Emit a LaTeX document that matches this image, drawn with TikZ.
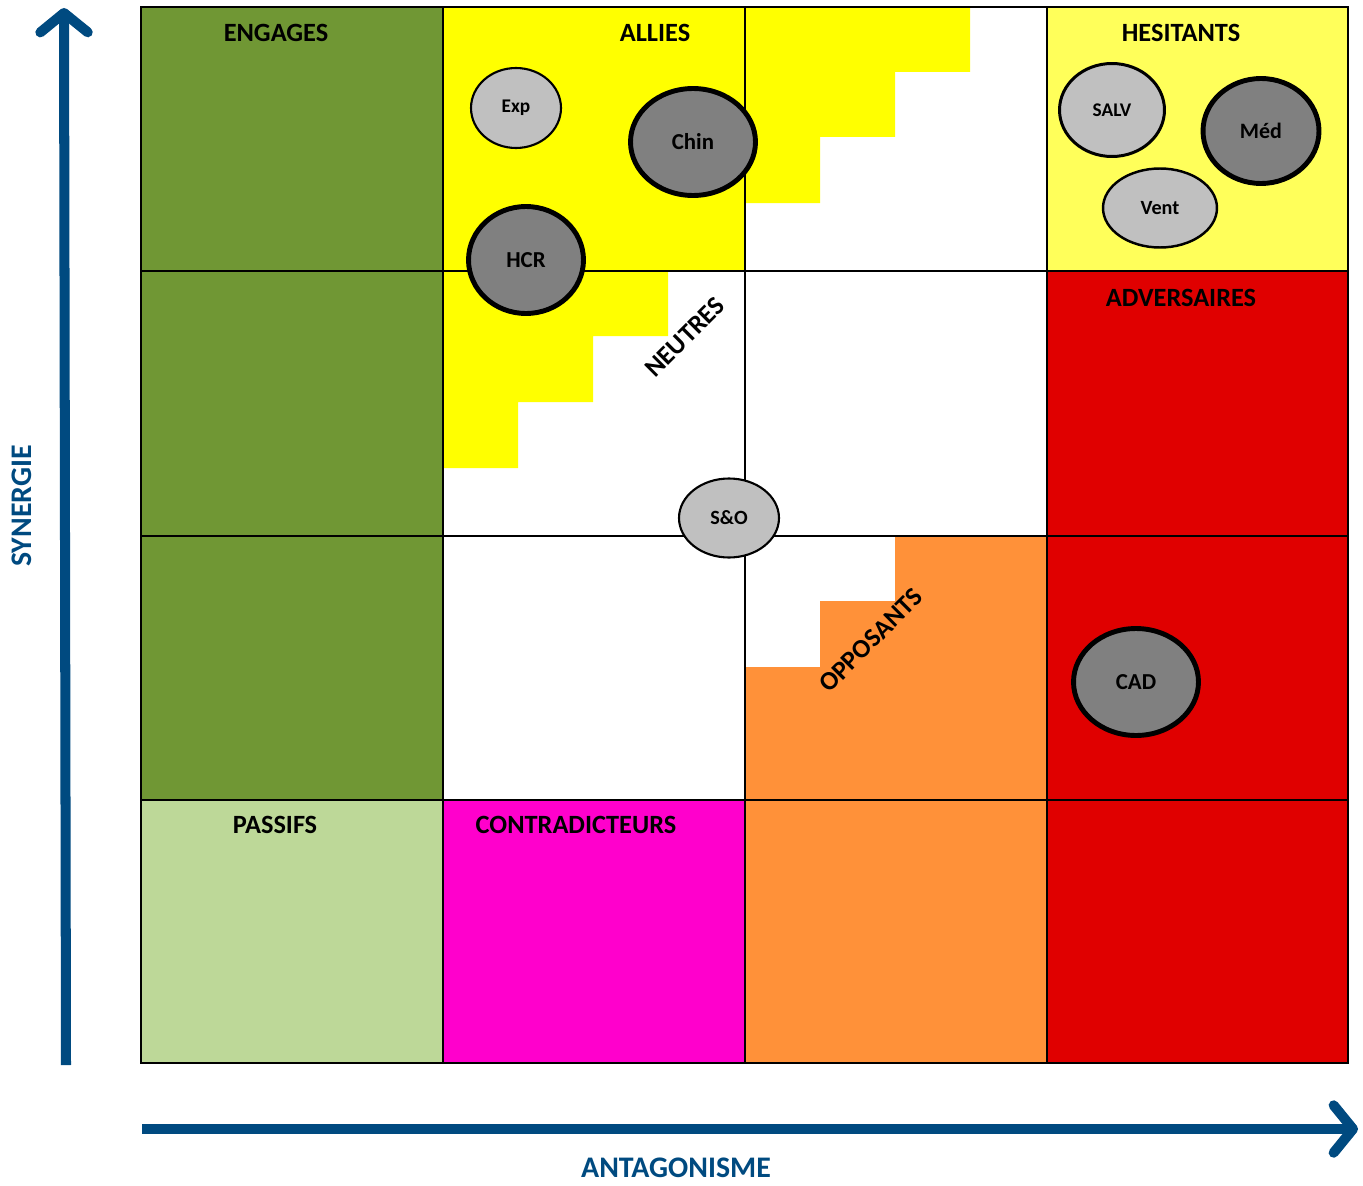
\documentclass[tikz,border=0pt]{standalone}
\usepackage{fontspec}
\setmainfont{Carlito}
\usetikzlibrary{arrows.meta, shapes.geometric}

\definecolor{engage}{RGB}{112,151,52}
\definecolor{passif}{RGB}{189,216,152}
\definecolor{allie}{RGB}{255,255,0}
\definecolor{hesite}{RGB}{255,255,90}
\definecolor{adverse}{RGB}{224,0,0}
\definecolor{oppose}{RGB}{255,145,57}
\definecolor{contredit}{RGB}{255,0,204}
\definecolor{axe}{RGB}{0,74,128}
\definecolor{grisclair}{RGB}{192,192,192}
\definecolor{grisfonce}{RGB}{128,128,128}

\begin{document}
\begin{tikzpicture}[x=0.02cm, y=-0.02cm,
		acteur/.style={ellipse, draw, inner sep=0pt, font=\bfseries\fontsize{11.5}{13}\selectfont},
		faible/.style={acteur, fill=grisclair, line width=1.2pt},
		fort/.style={acteur, fill=grisfonce, line width=2.8pt, font=\bfseries\fontsize{13}{15}\selectfont},
		titre/.style={font=\bfseries\fontsize{15}{17}\selectfont},
		axelabel/.style={font=\bfseries\fontsize{17}{19}\selectfont, text=axe},
		fleche/.style={draw=axe, line width=5.7pt, -{Straight Barb[length=11pt, width=27pt, line cap=round, line join=round]}}]
		\useasboundingbox (0,0) rectangle (1363,1186);
		
		% cells
		\fill[engage] (141,7) rectangle (443,800);
		\fill[passif] (141,800) rectangle (443,1063);
		\fill[allie] (443,7) rectangle (745,271);
		\fill[hesite] (1047,7) rectangle (1348,271);
		\fill[adverse] (1047,271) rectangle (1348,1063);
		\fill[contredit] (443,800) rectangle (745,1063);
		\fill[oppose] (745,800) rectangle (1047,1063);
		
		% staircases
		\fill[allie] (745,7) -| (970,72) -| (895,137) -| (820,203) -| cycle;
		\fill[allie] (443,271) -| (668,336) -| (593,402) -| (518,468) -| cycle;
		\fill[oppose] (895,536) -| (1047,800) -| (745,667) -| (820,601) -| (895,536) -- cycle;
		
		% grid
		\foreach \x in {443,745,1047}
			\draw[line width=0.8pt] (\x,7) -- (\x,1063);
		\foreach \y in {271,536,800}
			\draw[line width=0.8pt] (141,\y) -- (1348,\y);
		\draw[line width=1.1pt] (141,7) rectangle (1348,1063);
		
		% titles
		\node[titre] (engages) at (276,33) {ENGAGES};
		\node[titre] (allies) at (655,33) {ALLIES};
		\node[titre] (hesitants) at (1181,33) {HESITANTS};
		\node[titre] (adversaires) at (1181,298) {ADVERSAIRES};
		\node[titre] (passifs) at (275,825) {PASSIFS};
		\node[titre] (contradicteurs) at (576,825) {CONTRADICTEURS};
		\node[titre, rotate=45] (neutres) at (685,337) {NEUTRES};
		\node[titre, rotate=45] (opposants) at (871,640) {OPPOSANTS};
		
		% actors
		\node[faible, minimum width=1.8cm, minimum height=1.6cm, font=\bfseries\fontsize{11}{13}\selectfont] (exp) at (516,108) {Exp};
		\node[fort, minimum width=2.5cm, minimum height=2.14cm] (chin) at (693,142) {Chin};
		\node[fort, minimum width=2.3cm, minimum height=2.14cm] (hcr) at (526,260) {HCR};
		\node[faible, minimum width=2.0cm, minimum height=1.58cm] (so) at (729,518) {S\&O};
		\node[faible, line width=1.7pt, minimum width=2.1cm, minimum height=1.86cm, font=\bfseries\fontsize{11}{13}\selectfont] (salv) at (1112,110) {SALV};
		\node[fort, minimum width=2.32cm, minimum height=2.1cm, font=\bfseries\fontsize{12.5}{15}\selectfont] (med) at (1261,131) {Méd};
		\node[faible, line width=1.4pt, minimum width=2.28cm, minimum height=1.58cm] (vent) at (1160,208) {Vent};
		\node[fort, minimum width=2.5cm, minimum height=2.14cm] (cad) at (1136,682) {CAD};
		
		% axes
		\coordinate (ybas) at (66,1065);
		\coordinate (yhaut) at (64,8);
		\coordinate (xgauche) at (142,1129);
		\coordinate (xdroite) at (1358,1129);
		\draw[fleche] (ybas) -- (yhaut);
		\draw[fleche] (xgauche) -- (xdroite);
		\node[axelabel, rotate=90] (synergie) at (22,506) {SYNERGIE};
		\node[axelabel] (antagonisme) at (676,1168) {ANTAGONISME};
	\end{tikzpicture}
\end{document}
